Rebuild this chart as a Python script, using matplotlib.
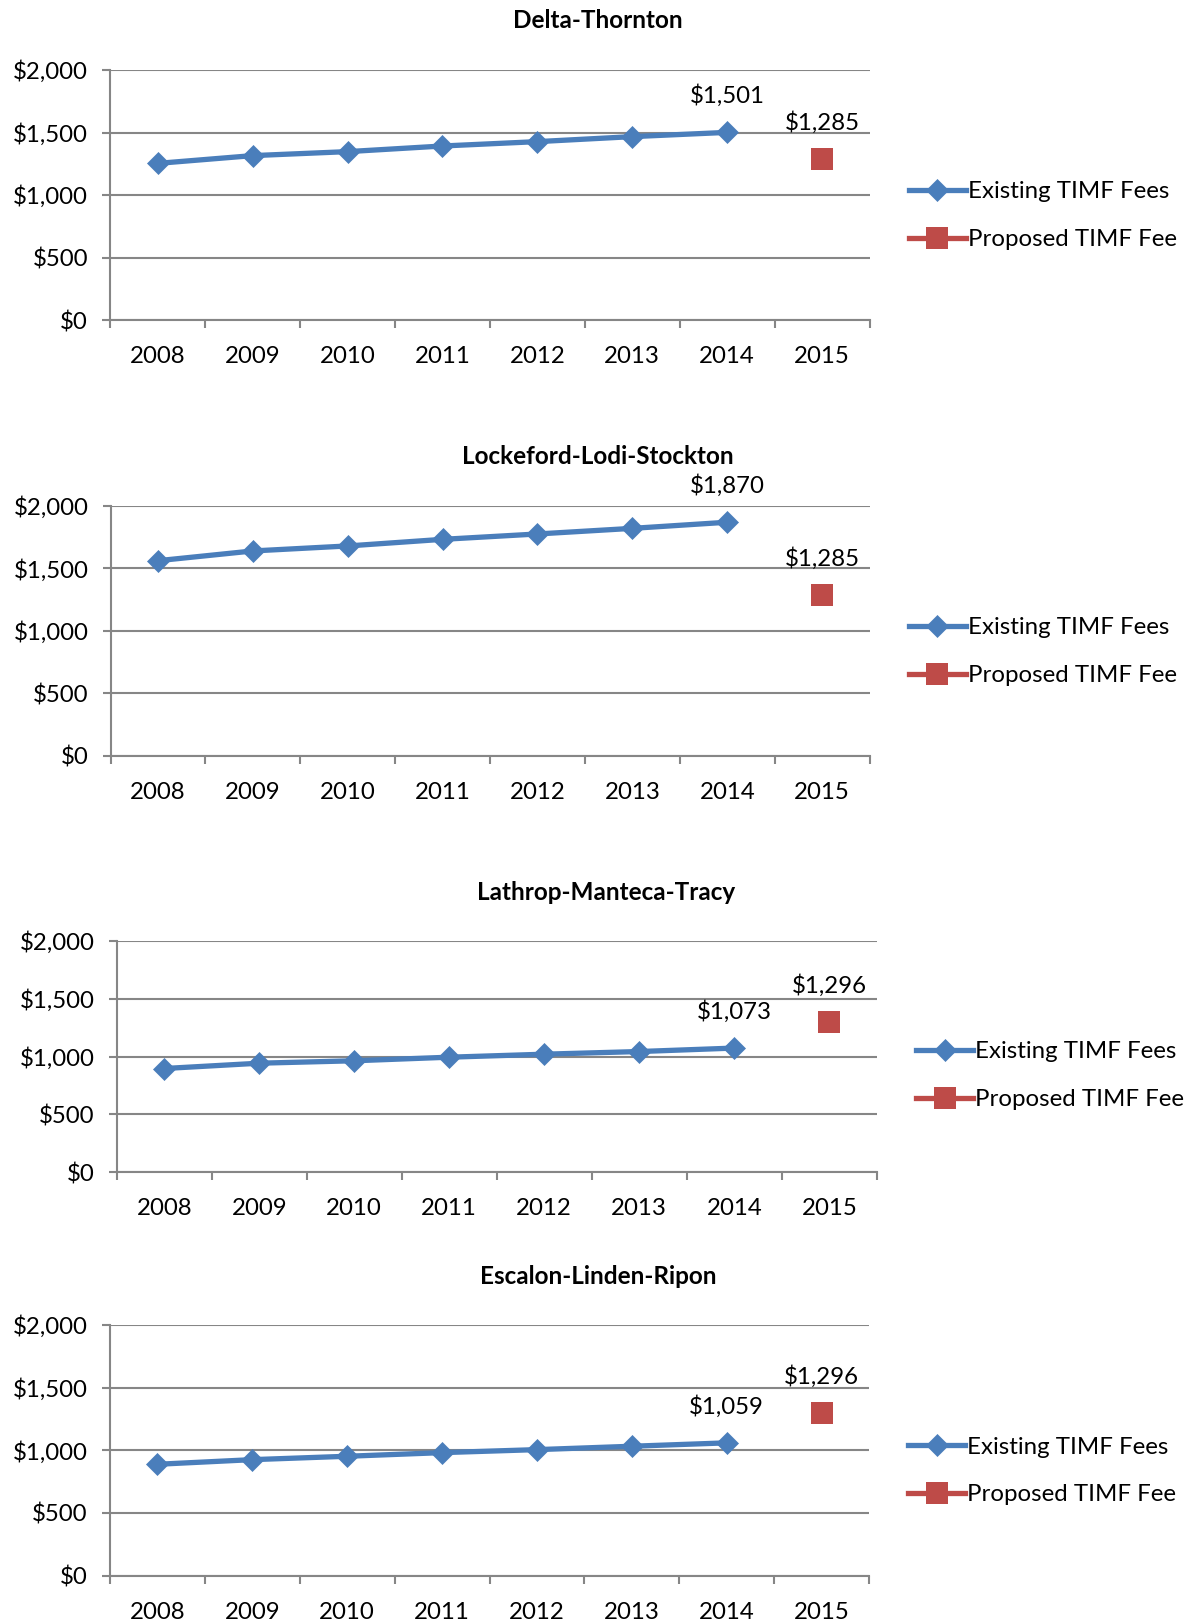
import matplotlib
matplotlib.use("Agg")
import matplotlib.pyplot as plt
from matplotlib.ticker import FixedLocator, FuncFormatter

plt.rcParams['font.family'] = ['Lato', 'DejaVu Sans']

# fee history per corridor, 2008-2014, plus the proposed 2015 fee
years = ['2008', '2009', '2010', '2011', '2012', '2013', '2014', '2015']
corridors = ['Delta-Thornton', 'Lockeford-Lodi-Stockton',
             'Lathrop-Manteca-Tracy', 'Escalon-Linden-Ripon']
delta_thornton = [1253, 1315, 1347, 1392, 1427, 1467, 1501]
lockeford_lodi_stockton = [1562, 1640, 1680, 1733, 1776, 1821, 1870]
lathrop_manteca_tracy = [896, 942, 963, 994, 1020, 1043, 1073]
escalon_linden_ripon = [888, 925, 952, 981, 1005, 1032, 1059]
existing = [delta_thornton, lockeford_lodi_stockton,
            lathrop_manteca_tracy, escalon_linden_ripon]
proposed = [1285, 1285, 1296, 1296]

BLUE = '#4A7EBB'
RED = '#BE4B48'
GRAY = '#868686'
FS = 17.3

W, H = 1187, 1621
fig = plt.figure(figsize=(W / 100, H / 100), dpi=100)

# panel boxes in pixels: left, top, right, bottom, title centre x, title centre y
boxes = [
    (110.2, 70.0, 869.6, 320.0, 598, 21),
    (110.5, 506.0, 869.6, 755.7, 598, 456),
    (116.7, 941.0, 876.8, 1172.0, 606, 892),
    (110.0, 1325.0, 869.0, 1575.5, 598, 1277),
]


def money(v, pos=None):
    return '${:,.0f}'.format(v)


def draw_panel(box, title, fees, new_fee):
    left, top, right, bottom, tx, ty = box
    ax = fig.add_axes([left / W, 1 - bottom / H, (right - left) / W, (bottom - top) / H])
    xs = list(range(len(fees)))
    x_new = len(fees)

    ax.plot(xs, fees, color=BLUE, lw=3.8, marker='D', ms=11.5,
            mec=BLUE, mew=0.5, label='Existing TIMF Fees', zorder=3)
    ax.plot([x_new], [new_fee], color=RED, lw=3.8, marker='s', ms=15.5,
            mec=RED, mew=0, label='Proposed TIMF Fee', zorder=3)

    ax.annotate(money(fees[-1]), (xs[-1], fees[-1]), xytext=(0, 26.5),
                textcoords='offset points', ha='center', va='center', fontsize=FS)
    ax.annotate(money(new_fee), (x_new, new_fee), xytext=(0, 26.5),
                textcoords='offset points', ha='center', va='center', fontsize=FS)

    ax.set_xlim(-0.5, len(years) - 0.5)
    ax.set_ylim(0, 2000)
    ax.yaxis.set_major_locator(FixedLocator([0, 500, 1000, 1500, 2000]))
    ax.yaxis.set_major_formatter(FuncFormatter(money))
    ax.grid(axis='y', color=GRAY, lw=1.5)
    ax.set_axisbelow(True)

    # category boundaries carry the tick marks, labels sit between them
    ax.xaxis.set_major_locator(FixedLocator([i - 0.5 for i in range(len(years) + 1)]))
    ax.xaxis.set_major_formatter(FuncFormatter(lambda v, p: ''))
    ax.xaxis.set_minor_locator(FixedLocator(range(len(years))))
    ax.set_xticklabels(years, minor=True)
    ax.tick_params(axis='x', which='major', length=6, width=1.5, color=GRAY, direction='out')
    ax.tick_params(axis='x', which='minor', length=0, pad=19, labelsize=FS)
    ax.tick_params(axis='y', length=6, width=1.5, color=GRAY, pad=10, labelsize=FS)

    for side in ('top', 'right'):
        ax.spines[side].set_visible(False)
    for side in ('left', 'bottom'):
        ax.spines[side].set_color(GRAY)
        ax.spines[side].set_linewidth(1.5)

    ax.legend(loc='center left', bbox_to_anchor=(1.052, 0.417), frameon=False,
              fontsize=FS, borderpad=0, borderaxespad=0, handlelength=2.35,
              handletextpad=0.1, labelspacing=1.12)

    fig.text(tx / W, 1 - ty / H, title, ha='center', va='center',
             fontsize=17.5, fontweight='bold')
    return ax


for box, title, fees, new_fee in zip(boxes, corridors, existing, proposed):
    draw_panel(box, title, fees, new_fee)

fig.savefig('out.png', dpi=100)
